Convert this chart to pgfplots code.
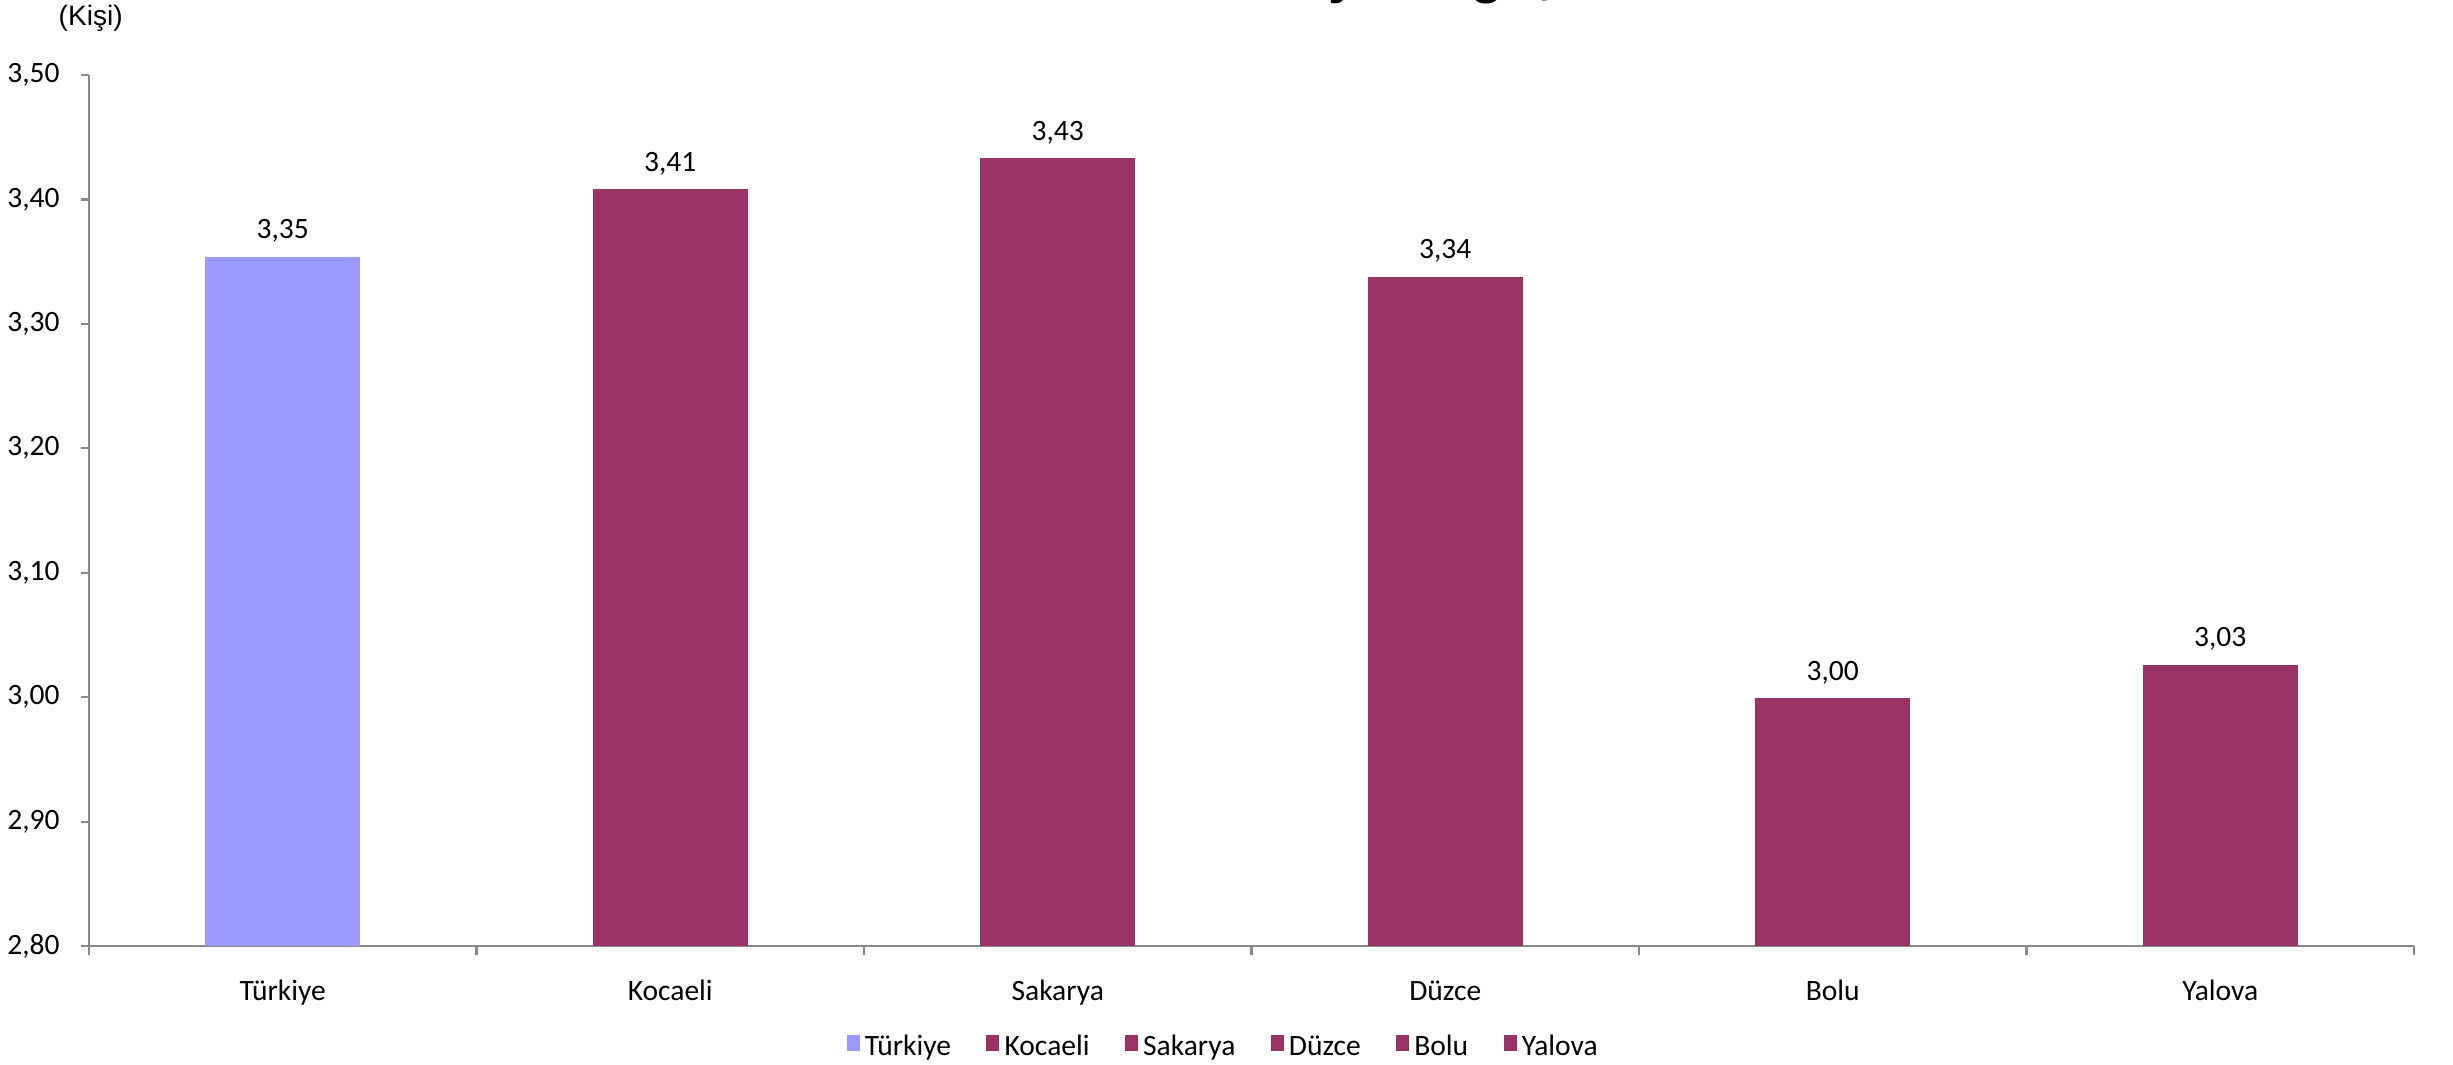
\documentclass[border=0pt]{standalone}
\usepackage{pgfplots}
\pgfplotsset{compat=1.18}
\usepackage{fontspec}
\setmainfont{Carlito}
\newfontfamily\arialfont{Liberation Sans}
\definecolor{tur}{HTML}{9999FF}
\definecolor{reg}{HTML}{993366}
\definecolor{axgray}{HTML}{898989}
\begin{document}
\begin{tikzpicture}
\useasboundingbox (0,0) rectangle (24.53,10.65);
\begin{axis}[
  at={(0.89cm,1.19cm)}, anchor=south west,
  scale only axis, width=23.25cm, height=8.71cm,
  xmin=-0.5, xmax=5.5, ymin=2.8, ymax=3.5,
  axis x line*=bottom, axis y line*=left,
  axis line style={axgray, line width=0.6pt},
  ytick={2.8,2.9,3.0,3.1,3.2,3.3,3.4,3.5},
  yticklabel style={/pgf/number format/fixed, /pgf/number format/fixed zerofill, /pgf/number format/precision=2, /pgf/number format/use comma, xshift=-0.09cm},
  /pgf/number format/assume math mode=true,
  tick label style={font=\fontsize{8.4}{10}\selectfont, text=black},
  xtick={0,1,2,3,4,5},
  xticklabels={Türkiye,Kocaeli,Sakarya,Düzce,Bolu,Yalova},
  xticklabel style={anchor=base, yshift=-0.46cm},
  major x tick style={draw=none},
  minor xtick={-0.5,0.5,1.5,2.5,3.5,4.5,5.5},
  tick align=outside,
  major tick length=0.08cm, minor tick length=0.09cm,
  tick style={axgray, line width=0.6pt},
  ybar, bar width=1.55cm, bar shift=0pt,
  nodes near coords={\pgfmathprintnumber[fixed,fixed zerofill,precision=2,use comma]{\pgfplotspointmeta}},
  nodes near coords style={font=\fontsize{8.4}{10}\selectfont, text=black, anchor=base, yshift=0.18cm},
  legend columns=6,
  legend style={at={(0.4885,-0.117)}, anchor=center, draw=none, fill=none,
    font=\fontsize{8.4}{10}\selectfont,
    nodes={inner xsep=1.5pt},
    /tikz/every even column/.append style={column sep=0.3cm}},
  legend image code/.code={\fill[#1] (0cm,-0.1em) rectangle (0.13cm,0.36em);},
]
\addplot[fill=tur, draw=none] coordinates {(0,3.354)};
\addplot[fill=reg, draw=none] coordinates {(1,3.408)};
\addplot[fill=reg, draw=none] coordinates {(2,3.433)};
\addplot[fill=reg, draw=none] coordinates {(3,3.338)};
\addplot[fill=reg, draw=none] coordinates {(4,2.999)};
\addplot[fill=reg, draw=none] coordinates {(5,3.026)};
\legend{Türkiye,Kocaeli,Sakarya,Düzce,Bolu,Yalova}
\end{axis}
\node[font=\arialfont\fontsize{8}{9.6}\selectfont, anchor=west, inner sep=0] at (0.58,10.47) {(Kişi)};
\node[font=\arialfont\bfseries\fontsize{15.5}{18}\selectfont, anchor=base east, inner sep=0] at (15.38,10.72) {Ortalama hane halkı büyüklüğü};
\node[font=\arialfont\bfseries\fontsize{15.5}{18}\selectfont, anchor=base west, inner sep=0] at (15.38,10.72) {, 2023};
\end{tikzpicture}
\end{document}
